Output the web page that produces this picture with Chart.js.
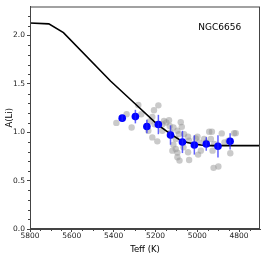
<!DOCTYPE html>
<html>
<head>
<meta charset="utf-8">
<script src="https://cdn.jsdelivr.net/npm/chart.js@4/dist/chart.umd.min.js"></script>
<style>
  html, body { margin: 0; padding: 0; background: #fff; }
  #wrap { width: 266px; height: 255px; }
</style>
</head>
<body>
<div id="wrap"><canvas id="myChart"></canvas></div>
<script>
// model curve
const modelTeff = [5800, 5710, 5640, 5415, 5300, 5190, 5127, 5079, 5047, 5014, 4983, 4950, 4700];
const modelALi  = [2.13, 2.12, 2.03, 1.53, 1.30, 1.08, 0.98, 0.915, 0.895, 0.879, 0.868, 0.862, 0.862];

// individual stars (grey)
const starTeff = [5387, 5338, 5314, 5282, 5268, 5207, 5186, 5215, 5204, 5228, 5234, 5215, 5191,
  5167, 5159, 5148, 5135, 5132, 5167, 5127, 5114, 5124, 5114, 5103, 5079, 5074, 5095, 5088,
  5119, 5103, 5095, 5085, 5063, 5044, 5039, 5066, 5044, 5039, 5007, 4999, 4991, 4983, 4996,
  4967, 4959, 4943, 4930, 4935, 4927, 4922, 4899, 4919, 4883, 4870, 4842, 4816, 4851, 5095, 4824];
const starALi = [1.097, 1.186, 1.049, 1.282, 1.186, 1.227, 1.278, 1.159, 1.083, 1.111, 1.015, 0.947, 0.906,
  1.083, 1.118, 1.101, 1.125, 1.066, 1.015, 0.998, 1.049, 0.964, 0.872, 0.930, 1.104, 1.056, 1.015, 0.981,
  0.810, 0.827, 0.742, 0.707, 0.981, 0.954, 0.913, 0.844, 0.793, 0.714, 0.937, 0.954, 0.895, 0.810, 0.769,
  0.930, 0.895, 1.005, 1.005, 0.930, 0.810, 0.632, 0.646, 0.878, 0.988, 0.895, 0.783, 0.991, 0.913, 0.790, 0.990];

// binned means (blue) with errors
const binTeff = [5359, 5296, 5241, 5186, 5128, 5071, 5014, 4957, 4901, 4843];
const binALi  = [1.146, 1.162, 1.060, 1.080, 0.971, 0.900, 0.869, 0.879, 0.855, 0.906];
const binErr  = [0.03, 0.07, 0.07, 0.10, 0.10, 0.115, 0.10, 0.07, 0.115, 0.085];

const xTicks = [5800, 5600, 5400, 5200, 5000, 4800];
const yTicks = [0.0, 0.5, 1.0, 1.5, 2.0];
const label = 'NGC6656';

const frameColor = '#444';

const framePlugin = {
  id: 'frame',
  afterDatasetsDraw(chart) {
    const ctx = chart.ctx;
    const xs = chart.scales.x, ys = chart.scales.y;
    ctx.save();
    // error bars
    ctx.strokeStyle = 'rgba(30,30,255,0.7)';
    ctx.lineWidth = 1.5;
    binTeff.forEach((t, i) => {
      const px = xs.getPixelForValue(t);
      ctx.beginPath();
      ctx.moveTo(px, ys.getPixelForValue(binALi[i] - binErr[i]));
      ctx.lineTo(px, ys.getPixelForValue(binALi[i] + binErr[i]));
      ctx.stroke();
    });
    ctx.restore();
  },
  afterDraw(chart) {
    const ctx = chart.ctx;
    const a = chart.chartArea;
    const xs = chart.scales.x, ys = chart.scales.y;
    ctx.save();
    ctx.strokeStyle = frameColor;
    ctx.lineWidth = 1;
    ctx.strokeRect(a.left + 0.5, a.top + 0.5, a.right - a.left - 1, a.bottom - a.top - 1);
    // minor ticks
    ctx.beginPath();
    for (let t = 4750; t <= 5800; t += 50) {
      if (t % 200 === 0) continue;
      const px = Math.round(xs.getPixelForValue(t)) + 0.5;
      ctx.moveTo(px, a.bottom);
      ctx.lineTo(px, a.bottom + 2);
    }
    for (let v = 0.1; v < 2.3; v += 0.1) {
      if (Math.abs(v * 2 - Math.round(v * 2)) < 1e-6) continue;
      const py = Math.round(ys.getPixelForValue(v)) + 0.5;
      ctx.moveTo(a.left, py);
      ctx.lineTo(a.left - 2, py);
    }
    ctx.stroke();
    // cluster label
    ctx.fillStyle = '#000';
    ctx.font = '9px "DejaVu Sans"';
    ctx.textAlign = 'left';
    ctx.textBaseline = 'middle';
    ctx.fillText(label, xs.getPixelForValue(4995), ys.getPixelForValue(2.08));
    ctx.restore();
  }
};

const data = {
  datasets: [
    {
      type: 'scatter',
      label: 'stars',
      data: starTeff.map((t, i) => ({ x: t, y: starALi[i] })),
      backgroundColor: 'rgba(150,150,150,0.5)',
      borderWidth: 0,
      pointRadius: 3.2,
      order: 3
    },
    {
      type: 'line',
      label: 'model',
      data: modelTeff.map((t, i) => ({ x: t, y: modelALi[i] })),
      borderColor: '#000',
      borderWidth: 1.6,
      pointRadius: 0,
      tension: 0,
      fill: false,
      order: 2
    },
    {
      type: 'scatter',
      label: 'bins',
      data: binTeff.map((t, i) => ({ x: t, y: binALi[i] })),
      backgroundColor: '#0000ff',
      borderWidth: 0,
      pointRadius: 3.8,
      order: 1
    }
  ]
};

const config = {
  type: 'scatter',
  data: data,
  plugins: [framePlugin],
  options: {
    responsive: false,
    animation: false,
    devicePixelRatio: 1,
    layout: { padding: { top: 5, right: 6, left: 0, bottom: 0 } },
    plugins: { legend: { display: false }, tooltip: { enabled: false } },
    scales: {
      x: {
        type: 'linear',
        reverse: true,
        min: 4700,
        max: 5800,
        afterBuildTicks: (s) => { s.ticks = xTicks.map(v => ({ value: v })); },
        afterFit: (s) => { s.height = 26; },
        ticks: { color: '#222', font: { family: 'DejaVu Sans', size: 7.5 }, padding: 0, maxRotation: 0,
          callback: (v) => String(v) },
        grid: { display: true, drawOnChartArea: false, drawTicks: true, tickLength: 3, color: frameColor },
        border: { display: true, color: frameColor },
        title: { display: true, text: 'Teff (K)', color: '#000', font: { family: 'DejaVu Sans', size: 8.5 }, padding: 0 }
      },
      y: {
        type: 'linear',
        min: 0,
        max: 2.3,
        afterBuildTicks: (s) => { s.ticks = yTicks.map(v => ({ value: v })); },
        afterFit: (s) => { s.width = 30; },
        ticks: { color: '#222', font: { family: 'DejaVu Sans', size: 7.5 }, padding: 2,
          callback: (v) => Number(v).toFixed(1) },
        grid: { display: true, drawOnChartArea: false, drawTicks: true, tickLength: 3, color: frameColor },
        border: { display: true, color: frameColor },
        title: { display: true, text: 'A(Li)', color: '#000', font: { family: 'DejaVu Sans', size: 8.5 },
          padding: { top: 5, bottom: 0 } }
      }
    }
  }
};

const canvas = document.getElementById('myChart');
canvas.width = 266;
canvas.height = 255;
const myChart = new Chart(canvas, config);
</script>
</body>
</html>
